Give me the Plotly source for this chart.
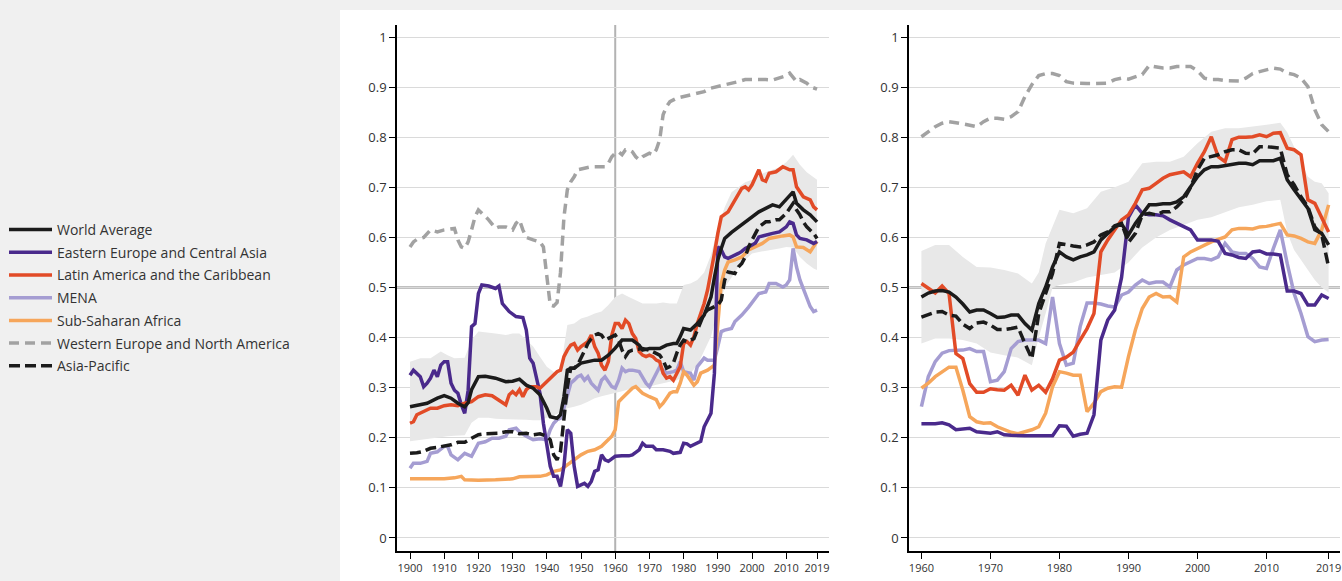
import plotly.graph_objects as go

# ---------------- left panel (1900-2019) ----------------
L_WORLD_YR = [1900, 1903, 1905, 1908, 1910, 1912, 1914, 1916, 1917, 1918, 1920, 1922, 1925, 1928, 1930, 1932, 1934,
              1936, 1938, 1940, 1941, 1943, 1944, 1945, 1946, 1947, 1948, 1950, 1952, 1954, 1956, 1958, 1960, 1962,
              1965, 1967, 1968, 1970, 1973, 1975, 1977, 1978, 1979, 1980, 1982, 1984, 1986, 1987, 1988, 1989, 1990,
              1991, 1992, 1994, 1996, 1998, 2000, 2002, 2004, 2006, 2008, 2010, 2012, 2013, 2015, 2017, 2019]
L_WORLD = [.262, .266, .269, .279, .284, .279, .269, .262, .270, .296, .322, .323, .319, .312, .313, .317, .305,
           .299, .286, .259, .242, .239, .246, .282, .335, .339, .339, .349, .352, .355, .355, .365, .379, .395,
           .395, .385, .375, .378, .378, .385, .388, .388, .402, .418, .415, .428, .445, .461, .481, .52, .555,
           .578, .598, .61, .62, .63, .641, .651, .658, .665, .661, .675, .691, .668, .655, .645, .631]

L_EECA_YR = [1900, 1901, 1903, 1904, 1905, 1906, 1907, 1908, 1909, 1910, 1911, 1912, 1913, 1914, 1915, 1916, 1917,
             1918, 1919, 1920, 1921, 1923, 1925, 1926, 1927, 1929, 1931, 1933, 1934, 1935, 1936, 1937, 1938, 1939,
             1940, 1941, 1942, 1943, 1944, 1945, 1946, 1947, 1948, 1949, 1950, 1951, 1952, 1953, 1954, 1955, 1956,
             1957, 1958, 1959, 1960, 1962, 1964, 1965, 1967, 1968, 1969, 1971, 1972, 1974, 1976, 1977, 1979, 1980,
             1981, 1982, 1983, 1985, 1986, 1987, 1988, 1989, 1990, 1991, 1992, 1993, 1994, 1995, 1996, 1997, 1998,
             1999, 2000, 2001, 2002, 2004, 2006, 2008, 2010, 2011, 2012, 2013, 2014, 2016, 2018, 2019]
L_EECA = [.325, .335, .322, .302, .309, .319, .335, .322, .345, .352, .352, .309, .295, .289, .266, .249, .295,
          .422, .428, .488, .505, .503, .498, .503, .468, .452, .442, .440, .415, .359, .349, .322, .289, .229,
          .183, .143, .123, .123, .103, .143, .216, .209, .143, .103, .106, .109, .103, .113, .133, .136, .166,
          .156, .153, .159, .163, .164, .164, .166, .176, .189, .183, .183, .176, .176, .173, .169, .171, .189,
          .188, .183, .186, .193, .222, .236, .249, .329, .581, .575, .561, .558, .561, .565, .568, .572, .578,
          .581, .585, .589, .601, .605, .608, .611, .621, .631, .628, .605, .598, .595, .588, .592]

L_LATAM_YR = [1900, 1901, 1902, 1904, 1906, 1908, 1910, 1912, 1914, 1916, 1918, 1920, 1922, 1924, 1926, 1928, 1929,
              1930, 1931, 1932, 1933, 1934, 1935, 1937, 1938, 1940, 1942, 1943, 1944, 1945, 1946, 1947, 1948, 1949,
              1950, 1951, 1952, 1953, 1954, 1955, 1956, 1957, 1958, 1959, 1960, 1961, 1962, 1963, 1964, 1965, 1966,
              1967, 1968, 1969, 1970, 1971, 1972, 1973, 1974, 1975, 1976, 1977, 1978, 1979, 1980, 1981, 1982, 1983,
              1984, 1985, 1986, 1987, 1988, 1989, 1990, 1991, 1993, 1995, 1997, 1998, 1999, 2000, 2002, 2003, 2004,
              2005, 2007, 2009, 2010, 2011, 2012, 2013, 2015, 2016, 2017, 2018, 2019]
L_LATAM = [.229, .232, .246, .252, .259, .259, .264, .266, .264, .269, .272, .282, .286, .284, .276, .266, .286,
           .292, .286, .296, .282, .296, .302, .302, .299, .312, .325, .332, .335, .362, .375, .385, .388, .375,
           .382, .388, .392, .405, .382, .369, .345, .335, .352, .405, .428, .428, .418, .435, .428, .408, .398,
           .372, .365, .362, .365, .362, .355, .352, .329, .319, .322, .315, .329, .342, .388, .392, .385, .402,
           .428, .448, .468, .495, .528, .568, .608, .641, .651, .675, .698, .701, .695, .705, .735, .715, .712,
           .728, .731, .741, .738, .735, .735, .701, .681, .678, .675, .661, .655]

L_MENA_YR = [1900, 1901, 1903, 1905, 1906, 1908, 1910, 1911, 1912, 1914, 1916, 1918, 1920, 1922, 1924, 1926, 1928,
             1929, 1931, 1932, 1934, 1936, 1938, 1940, 1941, 1942, 1943, 1944, 1945, 1946, 1947, 1948, 1949, 1950,
             1951, 1952, 1953, 1954, 1955, 1956, 1957, 1958, 1959, 1960, 1961, 1962, 1963, 1964, 1965, 1967, 1968,
             1969, 1970, 1971, 1972, 1973, 1974, 1975, 1977, 1978, 1979, 1980, 1982, 1983, 1984, 1985, 1986, 1987,
             1988, 1989, 1990, 1991, 1992, 1994, 1995, 1997, 1999, 2001, 2002, 2004, 2005, 2007, 2008, 2009, 2010,
             2011, 2012, 2013, 2014, 2015, 2016, 2017, 2018, 2019]
L_MENA = [.139, .149, .149, .153, .169, .172, .183, .183, .166, .156, .169, .163, .189, .192, .199, .199, .203,
          .216, .219, .212, .203, .196, .198, .196, .216, .229, .236, .239, .259, .282, .309, .315, .322, .325,
          .315, .322, .309, .302, .295, .315, .322, .312, .302, .299, .315, .339, .332, .335, .335, .332, .319,
          .309, .302, .315, .329, .342, .335, .329, .332, .335, .352, .332, .329, .315, .342, .352, .359, .355,
          .355, .355, .382, .412, .415, .418, .432, .445, .461, .481, .488, .491, .508, .508, .505, .501, .505,
          .515, .578, .541, .515, .498, .48, .462, .452, .455]

L_SSA_YR = [1900, 1905, 1910, 1913, 1915, 1916, 1920, 1925, 1930, 1932, 1935, 1938, 1940, 1942, 1944, 1946, 1948,
            1950, 1952, 1954, 1956, 1958, 1959, 1960, 1961, 1962, 1963, 1965, 1966, 1967, 1968, 1970, 1972, 1973,
            1974, 1975, 1976, 1977, 1978, 1979, 1980, 1981, 1982, 1983, 1984, 1985, 1987, 1988, 1989, 1990, 1991,
            1992, 1993, 1995, 1997, 1999, 2001, 2003, 2005, 2007, 2009, 2011, 2012, 2013, 2015, 2017, 2019]
L_SSA = [.118, .118, .118, .120, .123, .116, .115, .116, .118, .122, .122, .123, .126, .133, .136, .146, .156,
         .166, .173, .176, .183, .196, .203, .216, .272, .279, .286, .299, .302, .295, .289, .282, .276, .262,
         .269, .279, .289, .292, .292, .309, .332, .325, .315, .305, .312, .329, .335, .339, .345, .428, .508,
         .535, .551, .555, .561, .575, .581, .588, .598, .601, .603, .605, .601, .581, .580, .571, .592]

L_WENA_YR = [1900, 1901, 1902, 1904, 1906, 1908, 1910, 1913, 1914, 1915, 1916, 1917, 1918, 1919, 1920, 1921, 1923,
             1925, 1926, 1928, 1930, 1931, 1932, 1933, 1934, 1936, 1938, 1939, 1940, 1941, 1942, 1943, 1944, 1945,
             1946, 1947, 1948, 1949, 1951, 1953, 1955, 1957, 1958, 1959, 1960, 1961, 1962, 1963, 1964, 1965, 1966,
             1967, 1968, 1970, 1971, 1972, 1973, 1974, 1975, 1976, 1978, 1980, 1982, 1984, 1986, 1988, 1990, 1992,
             1994, 1996, 1998, 2000, 2002, 2004, 2006, 2008, 2010, 2011, 2012, 2013, 2014, 2015, 2016, 2017, 2018,
             2019]
L_WENA = [.581, .591, .596, .600, .615, .611, .615, .618, .595, .581, .578, .591, .615, .641, .655, .648, .635,
          .618, .621, .621, .615, .628, .635, .615, .600, .595, .591, .581, .52, .465, .463, .47, .53, .64,
          .695, .711, .721, .735, .738, .741, .741, .741, .748, .761, .768, .771, .765, .775, .775, .771, .761,
          .755, .761, .768, .765, .775, .795, .845, .861, .871, .878, .881, .885, .888, .891, .898, .901, .905,
          .908, .911, .915, .915, .916, .915, .914, .918, .923, .928, .918, .911, .915, .911, .908, .901, .898,
          .896]

L_AP_YR = [1900, 1902, 1904, 1906, 1908, 1910, 1912, 1914, 1916, 1918, 1920, 1922, 1924, 1926, 1928, 1930, 1932,
           1934, 1936, 1938, 1940, 1941, 1942, 1943, 1944, 1945, 1946, 1947, 1948, 1949, 1950, 1951, 1952, 1953,
           1954, 1955, 1956, 1957, 1958, 1960, 1961, 1962, 1963, 1964, 1965, 1967, 1968, 1970, 1972, 1973, 1974,
           1975, 1976, 1977, 1978, 1979, 1980, 1981, 1983, 1984, 1985, 1986, 1987, 1988, 1989, 1990, 1991, 1992,
           1993, 1994, 1995, 1996, 1997, 1998, 1999, 2000, 2001, 2002, 2004, 2005, 2007, 2008, 2010, 2011, 2012,
           2013, 2014, 2015, 2016, 2018, 2019]
L_AP = [.169, .170, .173, .179, .181, .183, .186, .191, .191, .199, .206, .208, .208, .209, .212, .212, .208,
        .209, .206, .208, .203, .196, .166, .156, .173, .236, .302, .339, .339, .345, .359, .372, .388, .398,
        .405, .408, .405, .395, .398, .405, .395, .375, .362, .372, .375, .378, .378, .375, .369, .365, .355,
        .339, .342, .349, .369, .385, .395, .392, .398, .415, .432, .448, .455, .458, .461, .465, .475, .515,
        .531, .53, .528, .541, .548, .561, .581, .595, .608, .621, .631, .631, .635, .635, .648, .658, .668,
        .655, .645, .631, .621, .608, .598]

L_BAND_YR = [1900, 1903, 1906, 1909, 1911, 1913, 1916, 1918, 1920, 1923, 1925, 1928, 1930, 1932, 1934, 1936, 1938,
             1940, 1942, 1944, 1945, 1946, 1948, 1950, 1952, 1954, 1956, 1958, 1960, 1962, 1964, 1966, 1968, 1970,
             1972, 1974, 1976, 1978, 1980, 1982, 1984, 1986, 1988, 1990, 1992, 1994, 1996, 1998, 2000, 2002, 2004,
             2006, 2008, 2010, 2012, 2014, 2016, 2018, 2019]
L_BAND_HI = [.352, .359, .359, .372, .365, .359, .360, .395, .412, .410, .408, .405, .408, .408, .395, .382, .362,
             .342, .332, .329, .38, .425, .428, .438, .442, .448, .452, .465, .481, .488, .481, .475, .468, .468,
             .468, .470, .468, .468, .505, .508, .515, .53, .565, .62, .66, .69, .70, .71, .715, .725, .73,
             .735, .74, .75, .765, .745, .73, .72, .715]
L_BAND_LO = [.193, .196, .199, .201, .203, .204, .205, .23, .24, .24, .238, .237, .237, .236, .236, .235, .235,
             .24, .245, .25, .255, .259, .262, .266, .272, .279, .283, .286, .29, .293, .297, .299, .301, .302,
             .306, .309, .312, .315, .322, .329, .345, .372, .402, .455, .50, .52, .541, .555, .568, .571, .573,
             .575, .578, .581, .58, .561, .548, .538, .535]

# ---------------- right panel (1960-2019, yearly) ----------------
R_YEARS = list(range(1960, 2020))
R_WORLD = [.481, .489, .493, .494, .491, .481, .467, .451, .455, .455, .448, .440, .441, .445, .445, .428, .415,
           .468, .501, .541, .571, .561, .555, .561, .565, .571, .595, .608, .621, .627, .605, .628, .648, .665,
           .665, .667, .667, .671, .681, .701, .721, .735, .741, .741, .743, .745, .748, .748, .745, .753, .753,
           .753, .758, .715, .695, .675, .658, .615, .608, .585]
R_EECA = [.228, .228, .228, .230, .226, .216, .218, .219, .212, .210, .209, .212, .206, .205, .204, .204, .204,
          .204, .204, .204, .224, .223, .203, .207, .209, .246, .395, .435, .455, .52, .64, .665, .648, .645,
          .645, .643, .635, .628, .621, .615, .595, .595, .595, .592, .568, .565, .56, .558, .571, .573, .567,
          .567, .565, .493, .493, .488, .465, .465, .485, .478]
R_LATAM = [.508, .498, .489, .503, .488, .368, .358, .308, .291, .291, .298, .296, .295, .305, .285, .325, .295,
           .305, .291, .318, .355, .361, .371, .395, .418, .448, .571, .595, .615, .635, .645, .668, .695, .698,
           .708, .718, .725, .728, .731, .721, .748, .771, .801, .761, .751, .795, .80, .80, .801, .805, .801,
           .808, .809, .778, .775, .765, .675, .668, .638, .611]
R_MENA = [.262, .322, .352, .369, .374, .375, .375, .378, .372, .372, .312, .315, .332, .378, .392, .395, .395,
          .395, .388, .481, .388, .345, .349, .422, .469, .469, .467, .463, .461, .485, .491, .505, .515, .508,
          .511, .511, .501, .535, .545, .551, .558, .558, .555, .561, .588, .571, .568, .568, .558, .541, .538,
          .578, .615, .548, .488, .448, .402, .392, .395, .396]
R_SSA = [.299, .309, .322, .332, .341, .341, .295, .242, .232, .229, .230, .222, .216, .211, .208, .212, .216,
         .222, .249, .302, .332, .329, .325, .325, .252, .269, .292, .299, .302, .301, .362, .415, .458, .481,
         .488, .481, .482, .471, .561, .571, .578, .585, .591, .596, .601, .615, .618, .618, .617, .621, .622,
         .625, .628, .605, .603, .598, .591, .588, .615, .665]
R_WENA = [.801, .811, .821, .828, .831, .829, .827, .824, .821, .831, .838, .838, .836, .841, .851, .881, .905,
          .923, .927, .927, .923, .911, .908, .907, .907, .907, .908, .908, .915, .918, .916, .92, .925, .943,
          .94, .938, .938, .941, .941, .941, .933, .918, .915, .915, .913, .912, .912, .918, .927, .931, .935,
          .938, .936, .928, .925, .918, .901, .855, .825, .811]
R_AP = [.441, .446, .451, .452, .445, .443, .427, .418, .429, .431, .425, .416, .416, .418, .421, .388, .358,
        .448, .488, .528, .588, .585, .583, .581, .585, .591, .605, .611, .623, .628, .59, .608, .645, .648,
        .645, .651, .651, .661, .675, .70, .735, .758, .761, .765, .771, .775, .775, .768, .767, .781, .781,
        .779, .778, .725, .705, .681, .661, .621, .605, .541]

R_BAND_YR = [1960, 1962, 1964, 1966, 1968, 1970, 1972, 1974, 1976, 1977, 1978, 1979, 1980, 1982, 1984, 1986, 1988,
             1990, 1992, 1994, 1996, 1998, 2000, 2002, 2004, 2006, 2008, 2010, 2012, 2013, 2014, 2016, 2017, 2018,
             2019]
R_BAND_HI = [.573, .585, .585, .561, .541, .540, .535, .528, .508, .53, .588, .621, .655, .648, .658, .691, .70,
             .711, .748, .751, .751, .761, .788, .811, .818, .818, .821, .825, .829, .81, .781, .721, .711, .708,
             .688]
R_BAND_LO = [.388, .398, .398, .395, .388, .37, .365, .36, .345, .40, .448, .50, .505, .51, .52, .525, .53,
             .55, .58, .60, .615, .625, .635, .64, .65, .66, .665, .672, .675, .61, .575, .535, .515, .50, .49]

L_TICKS = [1900, 1910, 1920, 1930, 1940, 1950, 1960, 1970, 1980, 1990, 2000, 2010, 2019]
R_TICKS = [1960, 1970, 1980, 1990, 2000, 2010, 2019]
Y_TICKS = [0, 0.1, 0.2, 0.3, 0.4, 0.5, 0.6, 0.7, 0.8, 0.9, 1]

# name -> colour, dash, legend rank
STYLE = {
    "World Average": ("#1b1b1b", "solid", 1),
    "Eastern Europe and Central Asia": ("#4a2a8c", "solid", 2),
    "Latin America and the Caribbean": ("#e24b27", "solid", 3),
    "MENA": ("#a59dd2", "solid", 4),
    "Sub-Saharan Africa": ("#f6a65b", "solid", 5),
    "Western Europe and North America": ("#a2a2a2", "10px,6px", 6),
    "Asia-Pacific": ("#1b1b1b", "11px,5px", 7),
}

FONT = "Open Sans"
TXT = "#333333"
W, H = 1342, 581


def add_panel(fig, xa, ya, band, series, legend):
    yr, lo, hi = band
    fig.add_trace(go.Scatter(x=yr, y=lo, mode="lines", line=dict(width=0), xaxis=xa, yaxis=ya,
                             showlegend=False, hoverinfo="skip"))
    fig.add_trace(go.Scatter(x=yr, y=hi, mode="lines", line=dict(width=0), fill="tonexty",
                             fillcolor="#e8e8e8", xaxis=xa, yaxis=ya, showlegend=False, hoverinfo="skip"))
    for name, (x, y) in series.items():
        col, dash, rank = STYLE[name]
        fig.add_trace(go.Scatter(
            x=x, y=y, mode="lines", name=name, legendrank=rank, legendgroup=name,
            line=dict(color=col, width=3.5, dash=dash),
            xaxis=xa, yaxis=ya, showlegend=legend,
        ))


fig = go.Figure()

# drawing order (bottom to top)
left = {
    "Western Europe and North America": (L_WENA_YR, L_WENA),
    "MENA": (L_MENA_YR, L_MENA),
    "Sub-Saharan Africa": (L_SSA_YR, L_SSA),
    "Eastern Europe and Central Asia": (L_EECA_YR, L_EECA),
    "Latin America and the Caribbean": (L_LATAM_YR, L_LATAM),
    "Asia-Pacific": (L_AP_YR, L_AP),
    "World Average": (L_WORLD_YR, L_WORLD),
}
right = {
    "Western Europe and North America": (R_YEARS, R_WENA),
    "MENA": (R_YEARS, R_MENA),
    "Sub-Saharan Africa": (R_YEARS, R_SSA),
    "Eastern Europe and Central Asia": (R_YEARS, R_EECA),
    "Latin America and the Caribbean": (R_YEARS, R_LATAM),
    "Asia-Pacific": (R_YEARS, R_AP),
    "World Average": (R_YEARS, R_WORLD),
}
add_panel(fig, "x", "y", (L_BAND_YR, L_BAND_LO, L_BAND_HI), left, True)
add_panel(fig, "x2", "y2", (R_BAND_YR, R_BAND_LO, R_BAND_HI), right, False)

y_top = (H - 25) / H
y_bot = (H - 551) / H

xcommon = dict(showgrid=False, zeroline=False, showline=True, linecolor="black", linewidth=1.5,
               ticks="outside", ticklen=6, tickcolor="black", tickwidth=1,
               tickfont=dict(family=FONT, size=11, color=TXT), automargin=False, fixedrange=True)
ycommon = dict(range=[-0.026, 1.024], tickvals=Y_TICKS, ticktext=[f"{v:g}" for v in Y_TICKS],
               showgrid=True, gridcolor="#dadada", gridwidth=1, zeroline=False,
               showline=True, linecolor="black", linewidth=1.5,
               ticks="outside", ticklen=6, tickcolor="black", tickwidth=1,
               tickfont=dict(family=FONT, size=13, color=TXT), automargin=False, fixedrange=True)

fig.update_layout(
    width=W, height=H,
    margin=dict(l=0, r=0, t=0, b=0),
    paper_bgcolor="#f0f0f0",
    plot_bgcolor="rgba(0,0,0,0)",
    font=dict(family=FONT, color=TXT),
    xaxis=dict(domain=[397 / W, 829 / W], range=[1896.2, 2022.5], tickvals=L_TICKS, anchor="y", **xcommon),
    yaxis=dict(domain=[y_bot, y_top], anchor="x", **ycommon),
    xaxis2=dict(domain=[909 / W, 1340 / W], range=[1958.2, 2020.65], tickvals=R_TICKS, anchor="y2", **xcommon),
    yaxis2=dict(domain=[y_bot, y_top], anchor="x2", **ycommon),
    showlegend=True,
    legend=dict(x=4 / W, xanchor="left", y=(H - 214) / H, yanchor="top",
                bgcolor="rgba(0,0,0,0)", font=dict(family=FONT, size=14, color=TXT),
                traceorder="grouped", tracegroupgap=1.5, itemwidth=43),
    shapes=[
        # white panel behind the charts
        dict(type="rect", xref="paper", yref="paper", x0=340 / W, x1=1, y0=0, y1=(H - 10) / H,
             fillcolor="white", line=dict(width=0), layer="below"),
        # 0.5 reference lines
        dict(type="line", xref="x domain", yref="y", x0=0, x1=1, y0=0.5, y1=0.5,
             line=dict(color="#ababab", width=2.5), layer="below"),
        dict(type="line", xref="x2 domain", yref="y2", x0=0, x1=1, y0=0.5, y1=0.5,
             line=dict(color="#ababab", width=2.5), layer="below"),
        # 1960 marker in left panel
        dict(type="line", xref="x", yref="y domain", x0=1960, x1=1960, y0=0, y1=1,
             line=dict(color="#b3b3b3", width=2), layer="below"),
    ],
)

# the page body has a default margin; drop it so the figure sits at the window's corner
fig.write_html("out.html", config={"displayModeBar": False},
               post_script="document.body.style.margin='0';document.body.style.overflow='hidden';")
